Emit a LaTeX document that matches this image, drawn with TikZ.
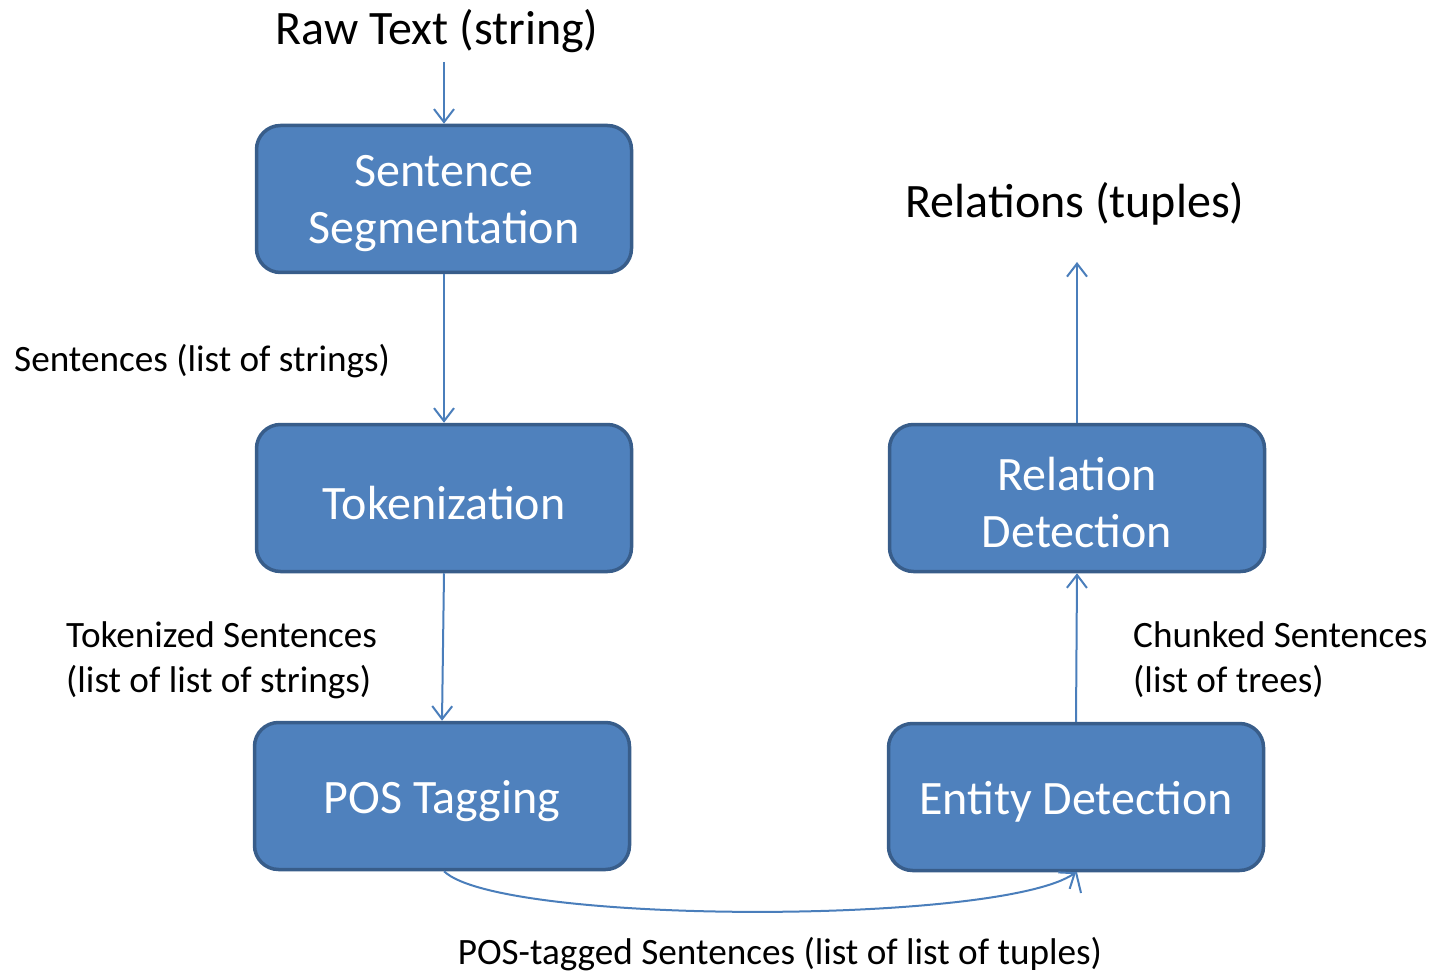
\documentclass[tikz,border=0pt]{standalone}
\usepackage{fontspec}
\setmainfont{Carlito}
\usetikzlibrary{arrows.meta}
\definecolor{boxfill}{HTML}{4F81BD}
\definecolor{boxline}{HTML}{385D8A}
\definecolor{arrowcol}{HTML}{4A7EBB}
\begin{document}
\begin{tikzpicture}[x=1pt,y=-1pt,
  stagebox/.style={draw=boxline, fill=boxfill, line width=3.5pt, rounded corners=24pt,
    minimum width=375pt, minimum height=147pt, inner sep=0pt},
  boxtext/.style={align=center, text=white, font=\fontsize{48}{57}\selectfont, inner sep=0pt, yshift=-5pt},
  biglabel/.style={font=\fontsize{48}{57}\selectfont, inner sep=0pt},
  smalllabel/.style={font=\fontsize{37.2}{45}\selectfont, inner sep=0pt, align=left, anchor=west},
  flow/.style={draw=arrowcol, line width=2pt, -{Straight Barb[length=13pt,width=20pt,line width=2pt]}}
]
\useasboundingbox (0,0) rectangle (1431,973);
\node[biglabel] (raw) at (437,31) {Raw Text (string)};
\node[stagebox, label={[boxtext]center:Sentence\\Segmentation}] (seg) at (444,199) {};
\node[stagebox, label={[boxtext]center:Tokenization}] (tok) at (444,498) {};
\node[stagebox, label={[boxtext]center:POS Tagging}] (pos) at (442,796) {};
\node[stagebox, label={[boxtext]center:Relation\\Detection}] (rel) at (1077,498) {};
\node[stagebox, label={[boxtext]center:Entity Detection}] (ent) at (1076,797) {};
\node[biglabel] (relout) at (1075,204) {Relations (tuples)};
\coordinate (rawend) at (444,62);
\coordinate (relend) at (1077,262);
\coordinate (stub) at (1081,893);
\node[smalllabel] (l1) at (14,361) {Sentences (list of strings)};
\node[smalllabel] (l2) at (66,660) {Tokenized Sentences\\(list of list of strings)};
\node[smalllabel] (l3) at (1133,660) {Chunked Sentences\\(list of trees)};
\node[font=\fontsize{37.2}{45}\selectfont, inner sep=0pt] (l4) at (780,954) {POS-tagged Sentences (list of list of tuples)};

\draw[flow] (rawend) -- (seg.north);
\draw[flow] (seg.south) -- (tok.north);
\draw[flow] (tok.south -| 444,0) -- (pos.north);
\draw[flow] (ent.north) -- (rel.south);
\draw[flow] (rel.north) -- (relend);
\draw[flow] (pos.south -| 444,0) .. controls (500,925) and (1000,925) .. (ent.south);
\draw[draw=arrowcol, line width=2pt] (ent.south) -- (stub);
\end{tikzpicture}
\end{document}
